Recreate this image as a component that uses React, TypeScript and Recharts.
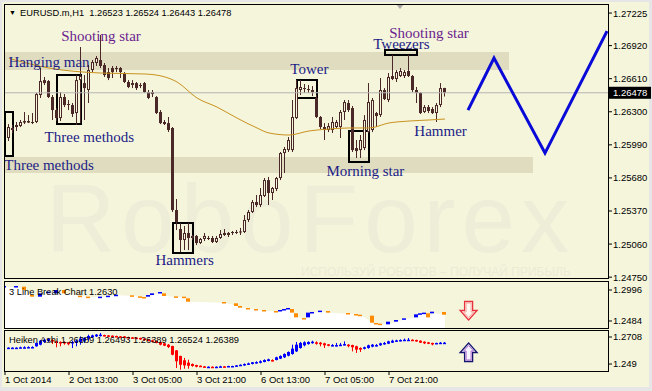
import React from 'react'
import {
  ComposedChart, Bar, Line, Area, XAxis, YAxis,
  ReferenceArea, ReferenceLine, ReferenceDot,
} from 'recharts'

// EURUSD.m H1 candles (index 0 = first full bar on the left)
const OPEN = [
  1.26054, 1.26129, 1.26157, 1.26166, 1.26213, 1.26213, 1.26204, 1.26204, 1.26457, 1.26597,
  1.26588, 1.26438, 1.26316, 1.26241, 1.26438, 1.26373, 1.26363, 1.26288, 1.26597, 1.26569,
  1.26504, 1.26691, 1.26757, 1.26785, 1.26738, 1.26672, 1.26710, 1.26710, 1.26710, 1.26663,
  1.26579, 1.26551, 1.26569, 1.26551, 1.26569, 1.26485, 1.26485, 1.26438, 1.26298, 1.26204,
  1.26194, 1.26148, 1.25379, 1.25201, 1.25098, 1.25164, 1.25136, 1.25136, 1.25070, 1.25108,
  1.25117, 1.25117, 1.25079, 1.25117, 1.25164, 1.25145, 1.25164, 1.25173, 1.25169, 1.25173,
  1.25286, 1.25361, 1.25454, 1.25426, 1.25510, 1.25660, 1.25539, 1.25576, 1.25679, 1.25913,
  1.25941, 1.25941, 1.26241, 1.26504, 1.26513, 1.26513, 1.26504, 1.26429, 1.26251, 1.26157,
  1.26129, 1.26129, 1.26157, 1.26157, 1.26298, 1.26382, 1.26335, 1.25960, 1.25941, 1.25960,
  1.26110, 1.26129, 1.26288, 1.26269, 1.26504, 1.26410, 1.26635, 1.26607, 1.26635, 1.26635,
  1.26682, 1.26635, 1.26504, 1.26476, 1.26298, 1.26344, 1.26326, 1.26288, 1.26363, 1.26523,
]
const HIGH = [
  1.26185, 1.26176, 1.26204, 1.26223, 1.26298, 1.26269, 1.26288, 1.26476, 1.26710, 1.26626,
  1.26597, 1.26457, 1.26335, 1.26485, 1.26466, 1.26410, 1.26382, 1.26644, 1.26907, 1.26644,
  1.26738, 1.26785, 1.26822, 1.27019, 1.26757, 1.26710, 1.26729, 1.26729, 1.26719, 1.26672,
  1.26597, 1.26597, 1.26579, 1.26569, 1.26579, 1.26504, 1.26504, 1.26447, 1.26316, 1.26223,
  1.26251, 1.26157, 1.25482, 1.25257, 1.25229, 1.25257, 1.25145, 1.25145, 1.25117, 1.25164,
  1.25136, 1.25136, 1.25136, 1.25192, 1.25201, 1.25173, 1.25183, 1.25192, 1.25211, 1.25332,
  1.25379, 1.25473, 1.25520, 1.25585, 1.25679, 1.25689, 1.25595, 1.25689, 1.25923, 1.25970,
  1.26063, 1.26410, 1.26597, 1.26597, 1.26560, 1.26551, 1.26541, 1.26457, 1.26260, 1.26194,
  1.26194, 1.26251, 1.26223, 1.26316, 1.26410, 1.26410, 1.26354, 1.26035, 1.26082, 1.26269,
  1.26569, 1.26429, 1.26298, 1.26616, 1.26522, 1.26663, 1.26832, 1.26691, 1.26710, 1.26691,
  1.26832, 1.26644, 1.26532, 1.26485, 1.26363, 1.26363, 1.26344, 1.26382, 1.26569, 1.26524,
]
const LOW = [
  1.26026, 1.26101, 1.26120, 1.26157, 1.26185, 1.26194, 1.26185, 1.26194, 1.26429, 1.26551,
  1.26429, 1.26223, 1.26213, 1.26213, 1.26344, 1.26316, 1.26251, 1.26176, 1.26194, 1.26223,
  1.26382, 1.26672, 1.26729, 1.26710, 1.26626, 1.26597, 1.26616, 1.26672, 1.26616, 1.26569,
  1.26522, 1.26522, 1.26504, 1.26522, 1.26476, 1.26419, 1.26438, 1.26279, 1.26185, 1.26176,
  1.26110, 1.25361, 1.25192, 1.24986, 1.25004, 1.25004, 1.25098, 1.25051, 1.25061, 1.25089,
  1.25098, 1.25070, 1.25070, 1.25108, 1.25136, 1.25126, 1.25145, 1.25154, 1.25145, 1.25164,
  1.25267, 1.25351, 1.25407, 1.25407, 1.25501, 1.25426, 1.25473, 1.25557, 1.25660, 1.25726,
  1.25923, 1.25923, 1.26232, 1.26457, 1.26476, 1.26476, 1.26447, 1.26241, 1.26138, 1.26035,
  1.26110, 1.26101, 1.26148, 1.26054, 1.26223, 1.26298, 1.25923, 1.25867, 1.25867, 1.25941,
  1.26101, 1.26110, 1.26157, 1.26251, 1.26410, 1.26391, 1.26597, 1.26579, 1.26626, 1.26616,
  1.26626, 1.26485, 1.26382, 1.26279, 1.26288, 1.26288, 1.26279, 1.26204, 1.26344, 1.26443,
]
const CLOSE = [
  1.26157, 1.26148, 1.26176, 1.26204, 1.26199, 1.26199, 1.26201, 1.26466, 1.26588, 1.26569,
  1.26438, 1.26316, 1.26241, 1.26438, 1.26363, 1.26363, 1.26279, 1.26597, 1.26635, 1.26522,
  1.26691, 1.26766, 1.26804, 1.26729, 1.26644, 1.26616, 1.26672, 1.26700, 1.26672, 1.26579,
  1.26532, 1.26569, 1.26522, 1.26541, 1.26485, 1.26429, 1.26466, 1.26288, 1.26194, 1.26185,
  1.26129, 1.25379, 1.25267, 1.25098, 1.25164, 1.25117, 1.25117, 1.25070, 1.25108, 1.25136,
  1.25112, 1.25079, 1.25117, 1.25154, 1.25145, 1.25164, 1.25173, 1.25169, 1.25178, 1.25286,
  1.25361, 1.25454, 1.25426, 1.25520, 1.25660, 1.25539, 1.25585, 1.25679, 1.25913, 1.25951,
  1.26035, 1.26251, 1.26522, 1.26532, 1.26522, 1.26507, 1.26485, 1.26251, 1.26157, 1.26129,
  1.26166, 1.26204, 1.26204, 1.26298, 1.26391, 1.26316, 1.25941, 1.25932, 1.26035, 1.26223,
  1.26391, 1.26410, 1.26260, 1.26504, 1.26419, 1.26626, 1.26607, 1.26672, 1.26682, 1.26672,
  1.26635, 1.26504, 1.26476, 1.26288, 1.26344, 1.26307, 1.26288, 1.26363, 1.26522, 1.26478,
]

// moving average, sampled where it could be read
const MA_IDX = [0, 10, 23, 34, 39, 42, 47, 52, 57, 62, 65, 70, 75, 80, 85, 90, 95, 100, 105, 109]
const MA_VAL = [
  1.26800, 1.26710, 1.26663, 1.26654, 1.26626, 1.26579, 1.26429, 1.26344, 1.26241, 1.26148,
  1.26101, 1.26082, 1.26120, 1.26138, 1.26148, 1.26148, 1.26195, 1.26213, 1.26223, 1.26232,
]

// hand drawn forecast zigzag
const FC_IDX = [114.75, 121.25, 134, 149.5]
const FC_VAL = [1.26316, 1.26804, 1.25913, 1.27056]

const LAST = 1.26478
const PRICE_TICKS = [1.27225, 1.2692, 1.2661, 1.263, 1.2599, 1.2568, 1.2537, 1.2506, 1.2475]
const LB_TICKS = [1.2996, 1.2484]
const HA_TICKS = [1.2708, 1.249]

const TIME_IDX = [-1, 15, 31, 47, 63, 79, 95]
const TIME_LBL = ['1 Oct 2014', '2 Oct 13:00', '3 Oct 05:00', '3 Oct 21:00', '6 Oct 13:00', '7 Oct 05:00', '7 Oct 21:00']

// support / resistance zones [x1, x2, low, high]
const ZONES = [
  [-1, 125, 1.26691, 1.26860],
  [-1, 131, 1.25726, 1.25876],
]
// pattern boxes [x1, x2, low, high]
const BOXES = [
  [-1, 1, 1.25885, 1.26298],
  [12, 18, 1.26185, 1.26644],
  [72, 77, 1.26429, 1.26597],
  [41, 46, 1.24976, 1.25257],
  [85, 90, 1.25829, 1.26120],
  [94, 102, 1.26832, 1.26878],
]
const NOTE_TEXT = ['Hanging man', 'Shooting star', 'Three methods', 'Three methods', 'Hammers', 'Tower', 'Tweezers', 'Shooting star', 'Hammer', 'Morning star']
const NOTE_IDX = [10, 23, 20.1, 10, 43.9, 75.1, 98.1, 105, 107.9, 89.1]
const NOTE_PRICE = [1.26766, 1.27010, 1.26063, 1.25801, 1.24911, 1.26700, 1.26935, 1.27038, 1.26120, 1.25745]
const NOTE_PURPLE = [false, true, false, false, false, false, false, true, false, false]

// 3 Line Break bricks
const LB_IDX = [-1, 2, 4, 6, 8, 10, 12, 14, 18, 20, 23, 25, 27, 31, 33, 34, 35, 36, 38, 39, 42, 44, 45, 54, 57, 58, 60, 62, 64, 67, 68, 69, 70, 71, 72, 74, 75, 76, 78, 80, 85, 87, 88, 91, 92, 93, 95, 97, 99, 102, 103, 104, 105, 106, 109]
const LB_LO = [
  1.3040, 1.3040, 1.2996, 1.2886, 1.2886, 1.2957, 1.2941, 1.2941, 1.2897, 1.2875,
  1.2875, 1.2897, 1.2908, 1.2897, 1.2880, 1.2858, 1.2886, 1.2913, 1.2952, 1.2897,
  1.2880, 1.2875, 1.2803, 1.2787, 1.2732, 1.2704, 1.2688, 1.2671, 1.2655, 1.2638,
  1.2655, 1.2671, 1.2688, 1.2622, 1.2544, 1.2522, 1.2544, 1.2622, 1.2644, 1.2622,
  1.2605, 1.2588, 1.2577, 1.2456, 1.2440, 1.2429, 1.2429, 1.2473, 1.2511, 1.2544,
  1.2600, 1.2611, 1.2544, 1.2611, 1.2588,
]
const LB_HI = [
  1.3062, 1.3062, 1.3051, 1.2913, 1.2941, 1.2968, 1.2996, 1.2996, 1.2902, 1.2886,
  1.2886, 1.2902, 1.2918, 1.2908, 1.2891, 1.2880, 1.2913, 1.2941, 1.2963, 1.2941,
  1.2891, 1.2886, 1.2858, 1.2798, 1.2776, 1.2732, 1.2699, 1.2682, 1.2666, 1.2649,
  1.2666, 1.2682, 1.2699, 1.2682, 1.2611, 1.2533, 1.2622, 1.2633, 1.2655, 1.2649,
  1.2616, 1.2599, 1.2588, 1.2572, 1.2451, 1.2440, 1.2473, 1.2500, 1.2528, 1.2594,
  1.2611, 1.2622, 1.2611, 1.2638, 1.2633,
]
const LB_UP = [
  1, 1, 0, 0, 1, 1, 1, 0, 0, 0,
  1, 1, 1, 0, 0, 0, 1, 1, 1, 0,
  0, 0, 0, 0, 0, 0, 0, 0, 0, 0,
  1, 1, 1, 0, 0, 0, 1, 1, 1, 0,
  0, 0, 0, 0, 0, 0, 1, 1, 1, 1,
  1, 1, 0, 1, 0,
]

// Heiken Ashi bars
const HA_OPEN = [
  1.2619, 1.2619, 1.2619, 1.2622, 1.2622, 1.2625, 1.2625, 1.2633, 1.2646, 1.2668,
  1.2678, 1.2684, 1.2673, 1.2668, 1.2668, 1.2662, 1.2657, 1.2662, 1.2668, 1.2678,
  1.2695, 1.2705, 1.2713, 1.2721, 1.2724, 1.2721, 1.2719, 1.2716, 1.2713, 1.2713,
  1.2708, 1.2705, 1.2703, 1.2700, 1.2695, 1.2689, 1.2681, 1.2676, 1.2668, 1.2657,
  1.2646, 1.2635, 1.2600, 1.2555, 1.2520, 1.2501, 1.2490, 1.2482, 1.2476, 1.2471,
  1.2466, 1.2468, 1.2466, 1.2468, 1.2471, 1.2471, 1.2471, 1.2474, 1.2476, 1.2479,
  1.2484, 1.2490, 1.2498, 1.2501, 1.2506, 1.2514, 1.2522, 1.2522, 1.2533, 1.2544,
  1.2557, 1.2571, 1.2592, 1.2619, 1.2641, 1.2651, 1.2660, 1.2665, 1.2662, 1.2657,
  1.2649, 1.2641, 1.2641, 1.2643, 1.2643, 1.2646, 1.2643, 1.2633, 1.2619, 1.2614,
  1.2619, 1.2630, 1.2638, 1.2641, 1.2649, 1.2654, 1.2662, 1.2670, 1.2676, 1.2681,
  1.2684, 1.2686, 1.2684, 1.2678, 1.2670, 1.2665, 1.2660, 1.2654, 1.2657, 1.2660,
]
const HA_CLOSE = [
  1.2622, 1.2622, 1.2622, 1.2625, 1.2625, 1.2627, 1.2627, 1.2660, 1.2678, 1.2686,
  1.2692, 1.2673, 1.2660, 1.2657, 1.2657, 1.2654, 1.2668, 1.2678, 1.2695, 1.2700,
  1.2716, 1.2721, 1.2727, 1.2727, 1.2719, 1.2716, 1.2716, 1.2713, 1.2711, 1.2705,
  1.2703, 1.2700, 1.2697, 1.2692, 1.2684, 1.2676, 1.2673, 1.2660, 1.2646, 1.2638,
  1.2627, 1.2565, 1.2512, 1.2484, 1.2479, 1.2476, 1.2474, 1.2468, 1.2468, 1.2466,
  1.2468, 1.2466, 1.2468, 1.2471, 1.2468, 1.2474, 1.2474, 1.2479, 1.2484, 1.2490,
  1.2495, 1.2504, 1.2506, 1.2512, 1.2522, 1.2528, 1.2520, 1.2544, 1.2555, 1.2571,
  1.2587, 1.2614, 1.2646, 1.2660, 1.2665, 1.2668, 1.2670, 1.2660, 1.2651, 1.2641,
  1.2638, 1.2643, 1.2643, 1.2646, 1.2651, 1.2641, 1.2625, 1.2606, 1.2606, 1.2625,
  1.2641, 1.2646, 1.2643, 1.2657, 1.2660, 1.2673, 1.2678, 1.2681, 1.2684, 1.2686,
  1.2686, 1.2681, 1.2673, 1.2662, 1.2657, 1.2654, 1.2651, 1.2660, 1.2662, 1.2662,
]
const HA_HIGH = [
  1.2625, 1.2625, 1.2625, 1.2630, 1.2633, 1.2633, 1.2633, 1.2662, 1.2684, 1.2695,
  1.2700, 1.2689, 1.2678, 1.2673, 1.2673, 1.2668, 1.2678, 1.2686, 1.2713, 1.2705,
  1.2727, 1.2727, 1.2732, 1.2740, 1.2727, 1.2724, 1.2721, 1.2719, 1.2716, 1.2716,
  1.2711, 1.2708, 1.2705, 1.2703, 1.2697, 1.2692, 1.2686, 1.2678, 1.2670, 1.2660,
  1.2651, 1.2638, 1.2603, 1.2557, 1.2539, 1.2525, 1.2495, 1.2484, 1.2479, 1.2474,
  1.2471, 1.2471, 1.2471, 1.2476, 1.2474, 1.2476, 1.2476, 1.2482, 1.2487, 1.2495,
  1.2501, 1.2506, 1.2512, 1.2520, 1.2528, 1.2533, 1.2528, 1.2549, 1.2560, 1.2576,
  1.2592, 1.2646, 1.2668, 1.2668, 1.2673, 1.2673, 1.2678, 1.2673, 1.2668, 1.2662,
  1.2651, 1.2651, 1.2660, 1.2660, 1.2673, 1.2651, 1.2646, 1.2638, 1.2625, 1.2630,
  1.2646, 1.2651, 1.2651, 1.2662, 1.2668, 1.2678, 1.2686, 1.2686, 1.2689, 1.2695,
  1.2700, 1.2689, 1.2686, 1.2681, 1.2673, 1.2668, 1.2662, 1.2662, 1.2668, 1.2668,
]
const HA_LOW = [
  1.2617, 1.2617, 1.2619, 1.2619, 1.2619, 1.2622, 1.2622, 1.2630, 1.2641, 1.2660,
  1.2668, 1.2651, 1.2625, 1.2633, 1.2646, 1.2641, 1.2619, 1.2633, 1.2646, 1.2660,
  1.2678, 1.2700, 1.2708, 1.2713, 1.2713, 1.2711, 1.2711, 1.2708, 1.2705, 1.2700,
  1.2697, 1.2697, 1.2692, 1.2686, 1.2678, 1.2673, 1.2668, 1.2657, 1.2641, 1.2635,
  1.2619, 1.2560, 1.2458, 1.2444, 1.2452, 1.2452, 1.2468, 1.2463, 1.2466, 1.2463,
  1.2463, 1.2463, 1.2463, 1.2466, 1.2466, 1.2468, 1.2468, 1.2471, 1.2474, 1.2476,
  1.2482, 1.2487, 1.2493, 1.2495, 1.2504, 1.2512, 1.2512, 1.2520, 1.2530, 1.2539,
  1.2552, 1.2565, 1.2587, 1.2614, 1.2633, 1.2646, 1.2654, 1.2646, 1.2633, 1.2619,
  1.2633, 1.2633, 1.2633, 1.2638, 1.2641, 1.2625, 1.2592, 1.2579, 1.2587, 1.2608,
  1.2614, 1.2625, 1.2633, 1.2638, 1.2646, 1.2651, 1.2660, 1.2668, 1.2673, 1.2678,
  1.2681, 1.2678, 1.2670, 1.2660, 1.2651, 1.2651, 1.2641, 1.2651, 1.2654, 1.2657,
]

const HEADER = 'EURUSD.m,H1  1.26523 1.26524 1.26443 1.26478'
const LB_TITLE = '3 Line Break Chart 1.2630'
const HA_TITLE = 'Heiken Ashi 1.26389 1.26493 1.26389 1.26524 1.26389'

const W = 652
const X_DOMAIN: [number, number] = [-1, 149.75]
const MAIN_DOMAIN: [number, number] = [1.24742, 1.2731]
const LB_DOMAIN: [number, number] = [1.23682, 1.31282]
const HA_DOMAIN: [number, number] = [1.24336, 1.27645]

const BG = '#f5f5dc'
const CANDLE = '#4b2828'
const MARK = '#ededd8'
const SANS = "'Liberation Sans', Arial, sans-serif"
const SERIF = "'Liberation Serif', 'Times New Roman', serif"

const candles = OPEN.map((o, k) => {
  const m = MA_IDX.indexOf(k)
  return { i: k, o, h: HIGH[k], l: LOW[k], c: CLOSE[k], ma: m >= 0 ? MA_VAL[m] : undefined }
})
const forecast = FC_IDX.map((i, k) => ({ i, v: FC_VAL[k] }))
const bricks = LB_IDX.map((i, k) => ({ i, lo: LB_LO[k], hi: LB_HI[k], up: LB_UP[k] === 1 }))
const haBars = HA_OPEN.map((o, k) => ({ i: k, o, c: HA_CLOSE[k], h: HA_HIGH[k], l: HA_LOW[k] }))

const Candle = (p: any) => {
  const { x, y, width, height, payload: d } = p
  if (d == null || height == null) return null
  const k = d.h > d.l ? height / (d.h - d.l) : 0
  const top = y + (d.h - Math.max(d.o, d.c)) * k
  const bot = y + (d.h - Math.min(d.o, d.c)) * k
  const cx = Math.floor(x + width / 2)
  const bh = Math.max(bot - top, 1)
  return (
    <g>
      <rect x={cx} y={y} width={1} height={Math.max(height, 1)} fill={CANDLE} />
      <rect x={cx - 1} y={top} width={3} height={bh} fill={CANDLE} />
      {d.c > d.o && bh > 2 && <rect x={cx} y={top + 1} width={1} height={bh - 2} fill={BG} />}
    </g>
  )
}

const HaBar = (p: any) => {
  const { x, y, width, height, payload: d } = p
  if (d == null || height == null) return null
  const k = d.h > d.l ? height / (d.h - d.l) : 0
  const top = y + (d.h - Math.max(d.o, d.c)) * k
  const bot = y + (d.h - Math.min(d.o, d.c)) * k
  const cx = Math.floor(x + width / 2)
  const col = d.c >= d.o ? '#0000ff' : '#ff0000'
  return (
    <g>
      <rect x={cx} y={y} width={1} height={Math.max(height, 1)} fill={col} />
      <rect x={cx - 1} y={top} width={3} height={Math.max(bot - top, 1.5)} fill={col} />
    </g>
  )
}

const Brick = (p: any) => {
  const { x, y, width, height, payload: d } = p
  if (d == null || height == null) return null
  const cx = Math.floor(x + width / 2)
  return <rect x={cx - 2} y={y} width={4} height={Math.max(height, 1.5)} fill={d.up ? '#0000ff' : '#ff8c00'} />
}

const PriceTick = ({ x, y, payload }: any) => {
  const v = payload.value as number
  if (v === LAST) {
    return (
      <g>
        <rect x={x - 5} y={y - 6} width={43} height={12} fill="#000" />
        <text x={x} y={y} dy={3.5} fill="#fff" fontSize={9.5} fontFamily={SANS}>{v.toFixed(5)}</text>
      </g>
    )
  }
  return <text x={x} y={y} dy={3.5} fill="#000" fontSize={9.5} fontFamily={SANS}>{v.toFixed(5)}</text>
}

const TimeTick = ({ x, y, payload }: any) => {
  const k = TIME_IDX.indexOf(payload.value)
  return <text x={x} y={y + 6} fill="#000" fontSize={9.5} fontFamily={SANS}>{TIME_LBL[k]}</text>
}

const noteShape = (text: string, purple: boolean) => (p: any) => (
  <text x={p.cx} y={p.cy} textAnchor="middle" dominantBaseline="central"
    fontFamily={SERIF} fontSize={15} fill={purple ? '#6b1d8e' : '#1c1c86'}>{text}</text>
)

const DownArrow = (p: any) => {
  const { cx, cy } = p
  const d = `M${cx - 4} ${cy - 9} L${cx + 4} ${cy - 9} L${cx + 4} ${cy} L${cx + 8.5} ${cy} L${cx} ${cy + 9.5} L${cx - 8.5} ${cy} L${cx - 4} ${cy} Z`
  const d2 = `M${cx - 2.5} ${cy - 7.5} L${cx + 2.5} ${cy - 7.5} L${cx + 2.5} ${cy + 1.5} L${cx + 5} ${cy + 1.5} L${cx} ${cy + 7} L${cx - 5} ${cy + 1.5} L${cx - 2.5} ${cy + 1.5} Z`
  return (
    <g>
      <path d={d} fill="#fff8f0" stroke="#e8303c" strokeWidth={1.3} />
      <path d={d2} fill="none" stroke="#f4a6a0" strokeWidth={1} />
    </g>
  )
}

const UpArrow = (p: any) => {
  const { cx, cy } = p
  const d = `M${cx - 4} ${cy + 9} L${cx + 4} ${cy + 9} L${cx + 4} ${cy} L${cx + 8.5} ${cy} L${cx} ${cy - 9.5} L${cx - 8.5} ${cy} L${cx - 4} ${cy} Z`
  const d2 = `M${cx - 2.5} ${cy + 7.5} L${cx + 2.5} ${cy + 7.5} L${cx + 2.5} ${cy - 1.5} L${cx + 5} ${cy - 1.5} L${cx} ${cy - 7} L${cx - 5} ${cy - 1.5} L${cx - 2.5} ${cy - 1.5} Z`
  return (
    <g>
      <path d={d} fill="#f8f4ff" stroke="#14146e" strokeWidth={1.3} />
      <path d={d2} fill="none" stroke="#a868c8" strokeWidth={1} />
    </g>
  )
}

const ShiftMark = (p: any) => (
  <polygon points={`${p.cx - 4},${p.cy} ${p.cx + 4},${p.cy} ${p.cx},${p.cy + 5}`} fill="#a8a8a8" />
)

const abs = (left: number, top: number, extra: React.CSSProperties = {}): React.CSSProperties =>
  ({ position: 'absolute', left, top, ...extra })

export default function App() {
  return (
    <div style={abs(0, 0, { width: W, height: 391, background: '#e6e6e6', overflow: 'hidden' })}>
      <div style={abs(2, 2, { width: 647, height: 385, background: BG })} />

      {/* watermark */}
      <div style={abs(46, 171, { fontFamily: SANS, fontSize: 96, lineHeight: 1, color: MARK, whiteSpace: 'nowrap', letterSpacing: 6 })}>
        RoboForex
      </div>
      <div style={abs(301, 265, { fontFamily: SANS, fontSize: 12, lineHeight: '14px', color: '#ebebd5', whiteSpace: 'nowrap' })}>
        ИСПОЛЬЗУЙ РОБОТОВ – ПОЛУЧАЙ ПРИБЫЛЬ
      </div>

      {/* main price window */}
      <div style={abs(0, 0)}>
        <ComposedChart width={W} height={292} data={candles} margin={{ top: 4, right: 4, bottom: 14, left: 5 }}>
          <XAxis dataKey="i" type="number" domain={X_DOMAIN} hide allowDataOverflow />
          <YAxis orientation="right" type="number" domain={MAIN_DOMAIN} allowDataOverflow
            ticks={[...PRICE_TICKS, LAST]} interval={0} width={40} axisLine={false}
            tickSize={4} tickMargin={1} tickLine={{ stroke: '#000' }} tick={<PriceTick />} />
          {ZONES.map((z, k) => (
            <ReferenceArea key={`z${k}`} x1={z[0]} x2={z[1]} y1={z[2]} y2={z[3]}
              fill="#dfdcbf" fillOpacity={1} stroke="none" ifOverflow="hidden" />
          ))}
          <ReferenceLine y={LAST} stroke="#b4b4b4" />
          <Line dataKey="ma" type="monotone" stroke="#c8921e" strokeWidth={1} dot={false}
            activeDot={false} connectNulls isAnimationActive={false} />
          <Bar dataKey={(d: any) => [d.l, d.h]} barSize={3} shape={<Candle />} isAnimationActive={false} />
          <Line data={forecast} dataKey="v" type="linear" stroke="#0a0ad8" strokeWidth={3}
            dot={false} activeDot={false} isAnimationActive={false} />
          {BOXES.map((b, k) => (
            <ReferenceArea key={`b${k}`} x1={b[0]} x2={b[1]} y1={b[2]} y2={b[3]}
              fill="none" stroke="#000" strokeWidth={2} ifOverflow="hidden" />
          ))}
          {NOTE_TEXT.map((t, k) => (
            <ReferenceDot key={`n${k}`} x={NOTE_IDX[k]} y={NOTE_PRICE[k]} r={0}
              shape={noteShape(t, NOTE_PURPLE[k])} />
          ))}
          <ReferenceDot x={97.75} y={MAIN_DOMAIN[1]} r={0} shape={ShiftMark} />
        </ComposedChart>
      </div>

      {/* 3 line break window */}
      <div style={abs(0, 280)}>
        <ComposedChart width={W} height={50} data={bricks} margin={{ top: 2, right: 4, bottom: 2, left: 5 }}>
          <XAxis dataKey="i" type="number" domain={X_DOMAIN} hide allowDataOverflow />
          <YAxis orientation="right" type="number" domain={LB_DOMAIN} allowDataOverflow
            ticks={LB_TICKS} interval={0} width={40} axisLine={false}
            tickSize={4} tickMargin={1} tickLine={{ stroke: '#000' }}
            tickFormatter={(v: number) => String(v)}
            tick={{ fontSize: 9.5, fill: '#000', fontFamily: SANS }} />
          <Area dataKey="lo" type="linear" stroke="none" fill="#ffffff" fillOpacity={1}
            dot={false} activeDot={false} connectNulls isAnimationActive={false} />
          <Bar dataKey={(d: any) => [d.lo, d.hi]} barSize={3} shape={<Brick />} isAnimationActive={false} />
          <ReferenceDot x={114.9} y={1.26573} r={0} shape={DownArrow} />
        </ComposedChart>
      </div>

      {/* heiken ashi window */}
      <div style={abs(0, 328)}>
        <ComposedChart width={W} height={63} data={haBars} margin={{ top: 2, right: 4, bottom: 4, left: 5 }}>
          <XAxis dataKey="i" type="number" domain={X_DOMAIN} allowDataOverflow height={16}
            ticks={TIME_IDX} interval={0} axisLine={false} tickSize={4} tickMargin={2}
            tickLine={{ stroke: '#000' }} tick={<TimeTick />} />
          <YAxis orientation="right" type="number" domain={HA_DOMAIN} allowDataOverflow
            ticks={HA_TICKS} interval={0} width={40} axisLine={false}
            tickSize={4} tickMargin={1} tickLine={{ stroke: '#000' }}
            tickFormatter={(v: number) => String(v)}
            tick={{ fontSize: 9.5, fill: '#000', fontFamily: SANS }} />
          <Bar dataKey={(d: any) => [d.l, d.h]} barSize={3} shape={<HaBar />} isAnimationActive={false} />
          <ReferenceDot x={114.9} y={1.25829} r={0} shape={UpArrow} />
        </ComposedChart>
      </div>

      {/* window frames */}
      <div style={abs(4, 4, { width: 605, height: 275, border: '1px solid #000', boxSizing: 'border-box' })} />
      <div style={abs(4, 281, { width: 605, height: 48, border: '1px solid #000', boxSizing: 'border-box' })} />
      <div style={abs(4, 330, { width: 605, height: 42, border: '1px solid #000', boxSizing: 'border-box' })} />

      {/* window titles */}
      <div style={abs(9, 8, { fontFamily: SANS, fontSize: 7, lineHeight: '10px', color: '#000' })}>▼</div>
      <div style={abs(20, 7, { fontFamily: SANS, fontSize: 9.3, lineHeight: '12px', color: '#000', whiteSpace: 'pre' })}>{HEADER}</div>
      <div style={abs(9, 286, { fontFamily: SANS, fontSize: 9.3, lineHeight: '12px', color: '#000', whiteSpace: 'pre' })}>{LB_TITLE}</div>
      <div style={abs(9, 334, { fontFamily: SANS, fontSize: 9.3, lineHeight: '12px', color: '#000', whiteSpace: 'pre' })}>{HA_TITLE}</div>
    </div>
  )
}
